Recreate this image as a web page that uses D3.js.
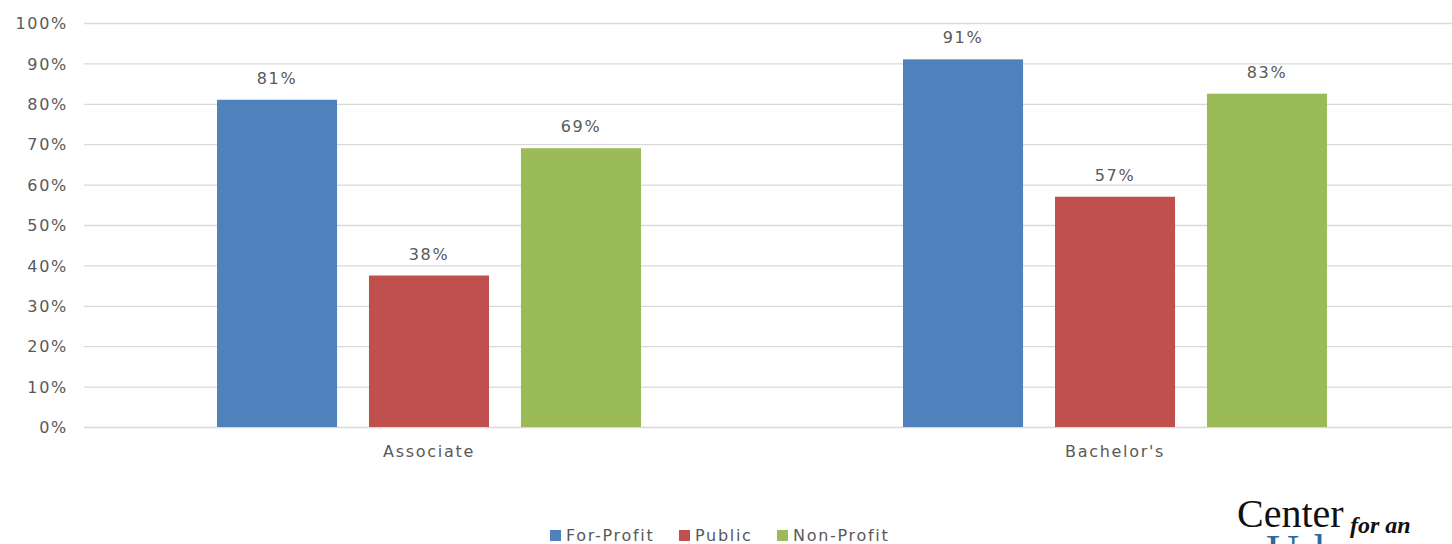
<!DOCTYPE html>
<html><head><meta charset="utf-8">
<script src="https://cdn.jsdelivr.net/npm/d3@7"></script>
<style>
html,body{margin:0;padding:0;background:#fff;}
svg{display:block;}
</style></head>
<body>
<svg id="chart" width="1452" height="544"></svg>
<script>
const categories = ["Associate", "Bachelor's"];
const seriesNames = ["For-Profit", "Public", "Non-Profit"];
const forProfit = [81, 91];
const publicVals = [37.5, 57];
const nonProfit = [69, 82.5];
const yTicks = [0,10,20,30,40,50,60,70,80,90,100];
const colors = ["#4F81BD", "#C0504D", "#9BBB59"];

(function(){
const series = [forProfit, publicVals, nonProfit];
const svg = d3.select("#chart");
const font = "'DejaVu Sans', 'Liberation Sans', sans-serif";
const textColor = "#595959";
const fs = "16px", ls = "1.7px";

const mLeft = 86, mRight = 1458, mTop = 23, mBottom = 427;
const x0 = d3.scaleBand().domain(categories).range([mLeft, mRight]).paddingInner(0).paddingOuter(0);
const y = d3.scaleLinear().domain([0, 100]).range([mBottom, mTop]);
const groupW = 424;
const x1 = d3.scaleBand().domain(seriesNames).range([0, groupW]).paddingInner(0.21).paddingOuter(0);

function styleText(sel) {
  return sel.style("font-family", font).style("font-size", fs).style("letter-spacing", ls).attr("fill", textColor);
}

// gridlines
const yAxis = d3.axisLeft(y).tickValues(yTicks).tickSize(-(1452 - mLeft + 2)).tickFormat(d => d + "%");
const gy = svg.append("g").attr("transform", `translate(${mLeft - 2},0)`).call(yAxis);
gy.select(".domain").remove();
gy.selectAll(".tick line").attr("stroke", "#d9d9d9").attr("stroke-width", 1.3);
styleText(gy.selectAll(".tick text").attr("x", -16).attr("dy", "0.35em"));

// bars
categories.forEach((c, ci) => {
  const gx = x0(c) + x0.bandwidth() / 2 - groupW / 2;
  const g = svg.append("g").attr("transform", `translate(${gx},0)`);
  seriesNames.forEach((s, si) => {
    const v = series[si][ci];
    g.append("rect")
      .attr("x", x1(s)).attr("width", x1.bandwidth())
      .attr("y", y(v)).attr("height", y(0) - y(v))
      .attr("fill", colors[si]);
    styleText(g.append("text")
      .attr("x", x1(s) + x1.bandwidth() / 2).attr("y", y(v) - 16)
      .attr("text-anchor", "middle"))
      .text(Math.round(v) + "%");
  });
});

// x axis labels
const xAxis = d3.axisBottom(x0).tickSize(0);
const gx = svg.append("g").attr("transform", `translate(0,${mBottom})`).call(xAxis);
gx.select(".domain").remove();
styleText(gx.selectAll(".tick text").attr("y", 24).attr("dy", "0.35em"));

// legend
const legend = svg.append("g");
const legX = [550, 679, 777];
seriesNames.forEach((s, i) => {
  legend.append("rect").attr("x", legX[i]).attr("y", 530).attr("width", 11).attr("height", 11).attr("fill", colors[i]);
  styleText(legend.append("text").attr("x", legX[i] + 16).attr("y", 541)).text(s);
});

// logo
svg.append("text").attr("x", 1237).attr("y", 527)
  .style("font-family", "'Liberation Serif', 'DejaVu Serif', serif").style("font-size", "40px").attr("fill", "#111")
  .text("Center");
svg.append("text").attr("x", 1350).attr("y", 533)
  .style("font-family", "'Liberation Serif', serif").style("font-style", "italic").style("font-weight", "bold")
  .style("font-size", "24px").attr("fill", "#111").text("for an");
svg.append("text").attr("x", 1266).attr("y", 567)
  .style("font-family", "'Liberation Serif', serif").style("font-size", "46px").attr("fill", "#2a6aa0")
  .text("Urban");
})();
</script>
</body></html>
